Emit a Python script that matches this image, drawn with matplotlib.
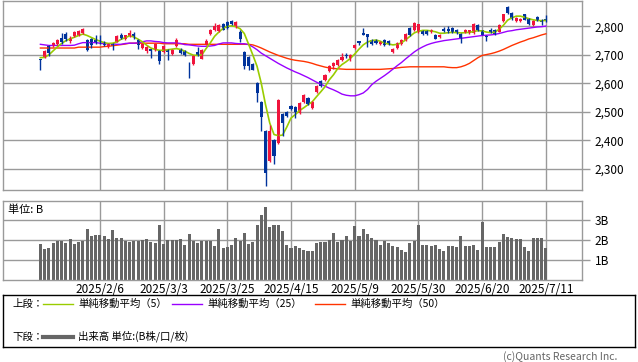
import matplotlib
matplotlib.use('Agg')
import matplotlib.pyplot as plt
import numpy as np

plt.rcParams['font.family'] = ['Noto Sans CJK JP', 'DejaVu Sans']

# daily OHLC, 2025/1/17 - 2025/7/11 (trading days)
opens = [2684, 2692, 2731, 2731, 2739, 2760, 2772, 2748, 2765, 2767,
         2777, 2751, 2754, 2753, 2753, 2744, 2730, 2739, 2746, 2771,
         2754, 2767, 2774, 2751, 2724, 2713, 2720, 2716, 2713, 2710,
         2718, 2704, 2732, 2722, 2713, 2673, 2669, 2710, 2687, 2736,
         2774, 2786, 2784, 2810, 2815, 2818, 2798, 2780, 2710, 2692,
         2669, 2601, 2535, 2432, 2327, 2400, 2391, 2492, 2500, 2520,
         2517, 2496, 2535, 2549, 2514, 2570, 2608, 2611, 2643, 2660,
         2663, 2681, 2698, 2690, 2725, 2747, 2777, 2772, 2751, 2751,
         2739, 2751, 2748, 2710, 2725, 2739, 2751, 2795, 2786, 2780,
         2784, 2784, 2780, 2771, 2762, 2790, 2792, 2795, 2788, 2774,
         2780, 2778, 2778, 2806, 2786, 2765, 2788, 2788, 2782, 2818,
         2868, 2848, 2818, 2818, 2842, 2825, 2806, 2833, 2824, 2827]
highs = [2686, 2716, 2734, 2745, 2757, 2776, 2782, 2766, 2783, 2788,
         2795, 2754, 2760, 2768, 2768, 2748, 2742, 2742, 2768, 2777,
         2771, 2788, 2779, 2754, 2742, 2730, 2722, 2740, 2716, 2733,
         2722, 2722, 2758, 2725, 2716, 2675, 2699, 2727, 2719, 2755,
         2792, 2812, 2809, 2813, 2818, 2821, 2819, 2788, 2713, 2695,
         2672, 2604, 2538, 2435, 2453, 2403, 2546, 2495, 2503, 2524,
         2520, 2534, 2561, 2552, 2538, 2593, 2611, 2633, 2664, 2676,
         2686, 2706, 2706, 2703, 2739, 2750, 2795, 2775, 2754, 2754,
         2748, 2754, 2751, 2725, 2745, 2756, 2777, 2798, 2815, 2810,
         2787, 2787, 2791, 2774, 2774, 2797, 2802, 2798, 2791, 2777,
         2791, 2789, 2812, 2809, 2789, 2768, 2795, 2791, 2809, 2845,
         2872, 2851, 2833, 2830, 2845, 2828, 2822, 2836, 2827, 2840]
lows = [2646, 2690, 2695, 2727, 2736, 2739, 2750, 2742, 2762, 2765,
        2775, 2715, 2725, 2738, 2739, 2730, 2725, 2716, 2744, 2754,
        2752, 2764, 2757, 2719, 2721, 2706, 2690, 2713, 2668, 2707,
        2683, 2700, 2729, 2703, 2695, 2620, 2666, 2695, 2684, 2733,
        2771, 2783, 2781, 2786, 2792, 2806, 2795, 2745, 2652, 2646,
        2645, 2535, 2433, 2240, 2324, 2316, 2388, 2415, 2482, 2507,
        2477, 2493, 2532, 2523, 2511, 2567, 2587, 2608, 2640, 2650,
        2660, 2678, 2688, 2680, 2722, 2733, 2768, 2727, 2734, 2737,
        2736, 2730, 2734, 2707, 2722, 2736, 2748, 2765, 2783, 2777,
        2768, 2771, 2777, 2754, 2759, 2781, 2776, 2778, 2775, 2742,
        2777, 2775, 2775, 2785, 2768, 2748, 2776, 2771, 2779, 2815,
        2844, 2824, 2815, 2815, 2821, 2806, 2803, 2818, 2806, 2816]
closes = [2681, 2713, 2708, 2742, 2753, 2746, 2754, 2760, 2779, 2784,
          2790, 2718, 2733, 2742, 2748, 2733, 2739, 2730, 2765, 2759,
          2768, 2777, 2765, 2736, 2739, 2727, 2714, 2737, 2677, 2730,
          2710, 2718, 2753, 2706, 2699, 2670, 2696, 2698, 2716, 2747,
          2788, 2800, 2806, 2789, 2795, 2809, 2816, 2754, 2660, 2661,
          2648, 2566, 2480, 2286, 2432, 2344, 2543, 2461, 2485, 2510,
          2500, 2531, 2558, 2526, 2535, 2590, 2590, 2630, 2661, 2673,
          2683, 2692, 2695, 2700, 2736, 2743, 2771, 2763, 2737, 2740,
          2745, 2733, 2737, 2722, 2742, 2753, 2774, 2768, 2812, 2807,
          2774, 2774, 2788, 2757, 2771, 2784, 2784, 2781, 2778, 2757,
          2788, 2786, 2809, 2788, 2771, 2762, 2782, 2774, 2806, 2842,
          2847, 2827, 2830, 2827, 2824, 2809, 2819, 2821, 2815, 2819]

ma5 = [2690, 2691, 2700, 2714, 2728, 2740, 2750, 2756, 2762, 2768,
       2773, 2768, 2761, 2754, 2748, 2743, 2740, 2741, 2745, 2755,
       2760, 2767, 2763, 2755, 2746, 2734, 2724, 2719, 2716, 2716,
       2718, 2720, 2722, 2719, 2713, 2705, 2699, 2698, 2700, 2722,
       2742, 2765, 2780, 2793, 2800, 2802, 2799, 2792, 2775, 2738,
       2700, 2660, 2600, 2525, 2460, 2420, 2416, 2418, 2446, 2478,
       2490, 2504, 2514, 2525, 2535, 2553, 2570, 2588, 2612, 2630,
       2652, 2666, 2676, 2688, 2703, 2720, 2735, 2745, 2750, 2752,
       2748, 2741, 2738, 2735, 2737, 2742, 2753, 2765, 2777, 2783,
       2786, 2786, 2784, 2781, 2776, 2776, 2778, 2779, 2778, 2777,
       2778, 2779, 2782, 2785, 2784, 2780, 2778, 2780, 2790, 2804,
       2822, 2830, 2836, 2836, 2832, 2827, 2823, 2821, 2820, 2821]
ma25 = [2737, 2735, 2733, 2733, 2733, 2733, 2733, 2733, 2734, 2739,
        2743, 2743, 2743, 2743, 2741, 2739, 2739, 2739, 2737, 2737,
        2740, 2741, 2741, 2742, 2746, 2749, 2749, 2747, 2746, 2743,
        2742, 2742, 2742, 2740, 2736, 2735, 2733, 2731, 2730, 2730,
        2731, 2733, 2738, 2742, 2742, 2742, 2740, 2739, 2739, 2736,
        2728, 2718, 2706, 2697, 2688, 2679, 2670, 2662, 2654, 2647,
        2640, 2634, 2627, 2620, 2612, 2604, 2597, 2590, 2583, 2577,
        2570, 2562, 2558, 2556, 2556, 2560, 2566, 2578, 2595, 2607,
        2617, 2627, 2638, 2650, 2662, 2673, 2686, 2698, 2710, 2720,
        2728, 2735, 2740, 2744, 2747, 2750, 2752, 2754, 2756, 2758,
        2760, 2762, 2764, 2766, 2768, 2769, 2770, 2772, 2775, 2779,
        2783, 2785, 2788, 2790, 2792, 2794, 2796, 2798, 2799, 2801]
ma50 = [2724, 2724, 2724, 2724, 2724, 2724, 2724, 2724, 2724, 2727,
        2727, 2727, 2727, 2727, 2727, 2729, 2730, 2732, 2734, 2736,
        2738, 2741, 2741, 2741, 2741, 2741, 2741, 2741, 2741, 2739,
        2739, 2739, 2739, 2739, 2739, 2737, 2737, 2737, 2737, 2737,
        2737, 2737, 2737, 2737, 2737, 2737, 2737, 2737, 2737, 2737,
        2735, 2730, 2724, 2717, 2710, 2704, 2698, 2693, 2688, 2684,
        2681, 2679, 2677, 2674, 2670, 2665, 2661, 2657, 2654, 2652,
        2651, 2650, 2649, 2649, 2649, 2649, 2649, 2649, 2649, 2649,
        2649, 2650, 2651, 2652, 2654, 2656, 2657, 2658, 2658, 2658,
        2658, 2658, 2658, 2658, 2658, 2658, 2656, 2655, 2655, 2658,
        2663, 2670, 2680, 2690, 2698, 2701, 2704, 2708, 2713, 2719,
        2726, 2733, 2739, 2745, 2750, 2756, 2760, 2765, 2770, 2774]

# volume, billions of shares
volume = [1.78, 1.55, 1.62, 1.83, 1.95, 1.95, 1.87, 2.05, 1.78, 1.90,
          1.95, 2.55, 2.20, 2.25, 2.25, 2.20, 2.05, 2.50, 2.08, 2.08,
          1.95, 1.92, 1.95, 1.95, 2.00, 2.05, 1.88, 1.83, 2.75, 1.78,
          2.00, 2.00, 2.00, 2.05, 1.75, 2.28, 1.95, 1.83, 1.95, 1.95,
          1.95, 1.70, 2.55, 1.62, 1.67, 1.75, 2.08, 1.95, 2.33, 1.78,
          1.88, 2.75, 3.25, 3.63, 2.63, 2.73, 2.73, 2.45, 1.75, 1.62,
          1.70, 1.62, 1.50, 1.45, 1.45, 1.83, 1.88, 1.88, 1.98, 2.33,
          1.92, 2.00, 2.20, 1.95, 2.70, 2.20, 2.55, 2.30, 2.10, 1.98,
          1.75, 1.95, 1.83, 1.70, 1.63, 1.50, 1.42, 1.83, 1.97, 2.75,
          1.75, 1.75, 1.70, 1.75, 1.55, 1.45, 1.70, 1.70, 1.67, 2.20,
          1.70, 1.70, 1.75, 1.50, 2.92, 1.63, 1.63, 1.63, 1.88, 2.28,
          2.13, 2.08, 2.05, 2.05, 1.63, 1.45, 2.08, 2.08, 2.08, 1.58]

tick_idx = [14, 29, 44, 59, 74, 89, 104, 119]
tick_labels = ['2025/2/6', '2025/3/3', '2025/3/25', '2025/4/15',
               '2025/5/9', '2025/5/30', '2025/6/20', '2025/7/11']
price_ticks = [2300, 2400, 2500, 2600, 2700, 2800]
vol_ticks = [1, 2, 3]

RED = '#f0143c'
BLUE = '#00339c'
GRID = '#9a9a9a'
W, H = 638, 362

x = np.arange(len(closes))
o = np.array(opens)
c = np.array(closes)
up = c >= o
colors = np.where(up, RED, BLUE)

fig = plt.figure(figsize=(W / 100, H / 100), dpi=100)


def px_axes(l, t, r, b):
    return fig.add_axes([l / W, 1 - b / H, (r - l) / W, (b - t) / H])


ax = px_axes(3, 0.5, 582, 190)
ax2 = px_axes(3, 201, 582, 280)

for a in (ax, ax2):
    a.set_xlim(-8.8, 127.5)
    a.set_xticks(tick_idx)
    a.grid(True, color=GRID, lw=1.0)
    a.set_axisbelow(True)
    a.yaxis.tick_right()
    a.tick_params(axis='y', length=6, color=GRID, width=1.0, pad=3,
                  labelsize=8.5)
    a.tick_params(axis='x', length=0)
    for s in a.spines.values():
        s.set_color(GRID)
        s.set_linewidth(1.0)

# price panel
ax.set_ylim(2225, 2891)
ax.set_yticks(price_ticks)
ax.set_yticklabels([f'{v:,}' for v in price_ticks])
ax.set_xticklabels([])
ax.plot(x, ma50, color='#ff3300', lw=1.0)
ax.plot(x, ma25, color='#9900ff', lw=1.0)
ax.plot(x, ma5, color='#99cc00', lw=1.2)
ax.vlines(x, lows, highs, colors=colors, lw=1.0)
body = np.maximum(np.abs(c - o), 1.5)
ax.bar(x, body, bottom=np.minimum(o, c), width=0.72, color=colors,
       linewidth=0)

# volume panel
ax2.set_ylim(0, 3.95)
ax2.set_yticks(vol_ticks)
ax2.set_yticklabels([f'{v}B' for v in vol_ticks])
ax2.bar(x, volume, width=0.72, color='#666666', linewidth=0)
ax2.set_xticklabels(tick_labels, fontsize=8.5)
ax2.tick_params(axis='x', pad=2)
ax2.text(5 / 579, 1 - 9 / 79, '単位: B', transform=ax2.transAxes,
         fontsize=8, va='center', ha='left')

# legend box
lg = px_axes(3, 295, 635, 347)
lg.set_xlim(0, 632)
lg.set_ylim(52, 0)
lg.set_xticks([])
lg.set_yticks([])
for s in lg.spines.values():
    s.set_color('black')
    s.set_linewidth(1.0)
r1, r2 = 8.5, 41.5
lg.text(9, r1, '上段：', fontsize=7.5, va='center')
lg.plot([40, 70], [r1, r1], color='#99cc00', lw=1.0)
lg.text(75, r1, '単純移動平均（5）', fontsize=7.5, va='center')
lg.plot([169, 199], [r1, r1], color='#9900ff', lw=1.0)
lg.text(204, r1, '単純移動平均（25）', fontsize=7.5, va='center')
lg.plot([312, 342], [r1, r1], color='#ff3300', lw=1.0)
lg.text(347, r1, '単純移動平均（50）', fontsize=7.5, va='center')
lg.text(9, r2, '下段：', fontsize=7.5, va='center')
lg.plot([40, 70], [r2, r2], color='#666666', lw=3.0)
lg.text(75, r2, '出来高 単位:(B株/口/枚)', fontsize=7.5, va='center')

fig.text(617 / W, 1 - 357 / H, '(c)Quants Research Inc.', fontsize=7.5,
         color='#666666', ha='right', va='center')

fig.savefig('out.png', dpi=100)
